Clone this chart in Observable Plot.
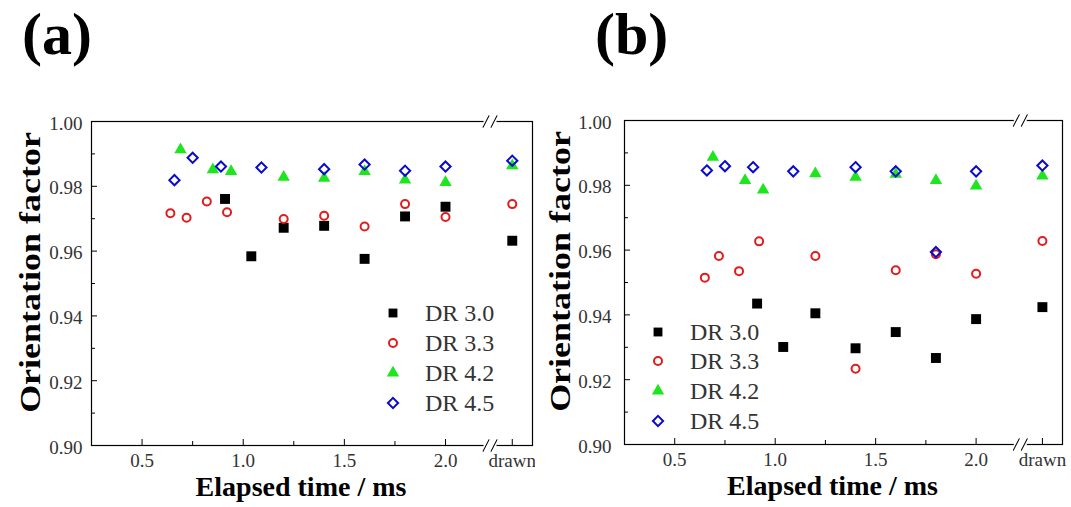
<!DOCTYPE html>
<html><head><meta charset="utf-8">
<script src="https://cdn.jsdelivr.net/npm/d3@7"></script>
<script src="https://cdn.jsdelivr.net/npm/@observablehq/plot@0.6"></script>
<style>
body{margin:0;background:#fff;}
#root{position:relative;width:1071px;height:507px;overflow:hidden;font-family:"Liberation Serif","Times New Roman",serif;background:#fff;}
.ptitle{position:absolute;top:0px;font-size:60px;font-weight:bold;line-height:normal;color:#000;}
.legrow{position:absolute;display:flex;align-items:center;height:30px;font-size:24px;color:#333;white-space:nowrap;}
.legrow svg{width:20px;height:20px;margin-right:22px;overflow:visible;flex:none;}
.panel{position:absolute;top:100px;}
</style></head><body><div id="root"></div>
<script>
// ---------- data ----------
const seriesNames = ["DR 3.0", "DR 3.3", "DR 4.2", "DR 4.5"];
const yMajor = [0.90, 0.92, 0.94, 0.96, 0.98, 1.00];
const yMinor = [0.91, 0.93, 0.95, 0.97, 0.99];
const xMajor = [0.5, 1.0, 1.5, 2.0];
const xMinor = [0.75, 1.25, 1.75];
const drawnLabel = "drawn";
const yTitle = "Orientation factor";
const xTitle = "Elapsed time / ms";

// panel (a)
const a_t30 = [0.91, 1.04, 1.20, 1.40, 1.60, 1.80, 2.00];
const a_f30 = [0.9761, 0.9584, 0.9672, 0.9678, 0.9576, 0.9707, 0.9737];
const a_t33 = [0.64, 0.72, 0.82, 0.92, 1.20, 1.40, 1.60, 1.80, 2.00];
const a_f33 = [0.9717, 0.9703, 0.9753, 0.9720, 0.9699, 0.9709, 0.9676, 0.9745, 0.9705];
const a_t42 = [0.69, 0.85, 0.94, 1.20, 1.40, 1.60, 1.80, 2.00];
const a_f42 = [0.9913, 0.9851, 0.9846, 0.9828, 0.9825, 0.9846, 0.9820, 0.9812];
const a_t45 = [0.66, 0.75, 0.89, 1.09, 1.40, 1.60, 1.80, 2.00];
const a_f45 = [0.9819, 0.9888, 0.9861, 0.9858, 0.9853, 0.9867, 0.9848, 0.9861];
const a_drawn = [0.9632, 0.9745, 0.9864, 0.9879]; // DR 3.0, 3.3, 4.2, 4.5

// panel (b)
const b_t30 = [0.91, 1.04, 1.20, 1.40, 1.60, 1.80, 2.00];
const b_f30 = [0.9435, 0.9301, 0.9405, 0.9297, 0.9347, 0.9267, 0.9387];
const b_t33 = [0.65, 0.72, 0.82, 0.92, 1.20, 1.40, 1.60, 1.80, 2.00];
const b_f33 = [0.9515, 0.9582, 0.9535, 0.9627, 0.9582, 0.9234, 0.9538, 0.9587, 0.9527];
const b_t42 = [0.69, 0.85, 0.94, 1.20, 1.40, 1.60, 1.80, 2.00];
const b_f42 = [0.9887, 0.9815, 0.9786, 0.9836, 0.9825, 0.9834, 0.9815, 0.9798];
const b_t45 = [0.66, 0.75, 0.89, 1.09, 1.40, 1.60, 1.80, 2.00];
const b_f45 = [0.9846, 0.9859, 0.9856, 0.9843, 0.9856, 0.9843, 0.9594, 0.9843];
const b_drawn = [0.9424, 0.9628, 0.9829, 0.9861];

// ---------- layout / style ----------
const X_DOMAIN = [0.25, 2.43];
const DRAWN_X = 2.33;   // axis slot of the "drawn" category (after the axis break)
const BREAK_X = 2.22;
const COLORS = ["#000000", "#e01c1c", "#1ee61e", "#0a0acc"];
const FONT = '"Liberation Serif", "Times New Roman", serif';

const rows = (t, f, d) => [...t.map((x, i) => ({x, y: f[i]})), {x: DRAWN_X, y: d}];
const lineShape = {draw(ctx, l) { ctx.moveTo(0, 0); ctx.lineTo(0, -l); }};

function breakMarks(anchor) {
  return [
    Plot.vector([BREAK_X], {x: d => d, frameAnchor: anchor, length: 9, rotate: 90, stroke: "white", strokeWidth: 4, shape: lineShape}),
    Plot.vector([BREAK_X], {x: d => d, frameAnchor: anchor, length: 13, rotate: 27, stroke: "#000", strokeWidth: 1, shape: lineShape, dx: -4}),
    Plot.vector([BREAK_X], {x: d => d, frameAnchor: anchor, length: 13, rotate: 27, stroke: "#000", strokeWidth: 1, shape: lineShape, dx: 4})
  ];
}

function panel(series, drawn, geom) {
  const [d30, d33, d42, d45] = series.map(([t, f], i) => rows(t, f, drawn[i]));
  const svg = Plot.plot({
    width: geom.width, height: 407,
    marginLeft: geom.ml, marginRight: geom.mr, marginTop: geom.mt, marginBottom: 407 - geom.mt - 324,
    x: {domain: X_DOMAIN, label: null},
    y: {domain: [0.90, 1.00], label: null},
    style: {fontFamily: FONT, background: "white", color: "#000", overflow: "visible"},
    marks: [
      Plot.frame({stroke: "#000", strokeWidth: 1.2}),
      ...breakMarks("top"),
      ...breakMarks("bottom"),
      Plot.axisY(yMinor, {tickSize: -4, tickFormat: () => "", stroke: "#000"}),
      Plot.axisY(yMajor, {tickSize: -6, tickFormat: () => "", stroke: "#000"}),
      Plot.axisY(yMajor, {tickSize: 0, tickPadding: geom.ypad, tickFormat: d => d.toFixed(2), fontSize: 19, fill: "#333", dy: 2, fontFamily: FONT}),
      Plot.axisX(xMinor, {tickSize: -4, tickFormat: () => "", stroke: "#000"}),
      Plot.axisX([...xMajor, DRAWN_X], {tickSize: -6, tickFormat: () => "", stroke: "#000"}),
      Plot.axisX([...xMajor, DRAWN_X], {tickSize: 0, tickPadding: 8, fontSize: 19, fill: "#333", fontFamily: FONT,
        tickFormat: d => d === DRAWN_X ? drawnLabel : d.toFixed(1)}),
      Plot.text([yTitle], {text: d => d, frameAnchor: "left", textAnchor: "middle", dx: geom.ylabDx, dy: -11, rotate: -90,
        fontSize: 36, fontWeight: "bold", fill: "#000", fontFamily: FONT}),
      Plot.text([xTitle], {text: d => d, frameAnchor: "bottom", dx: -11, dy: 50, lineAnchor: "bottom",
        fontSize: 28, fontWeight: "bold", fill: "#000", fontFamily: FONT}),
      Plot.dot(d30, {x: "x", y: "y", symbol: "square", r: 5.6, fill: COLORS[0], stroke: "none"}),
      Plot.dot(d33, {x: "x", y: "y", symbol: "circle", r: 4, fill: "none", stroke: COLORS[1], strokeWidth: 2}),
      Plot.dot(d42, {x: "x", y: "y", symbol: "triangle", r: 4.6, fill: COLORS[2], stroke: "none"}),
      Plot.dot(d45, {x: "x", y: "y", symbol: "diamond2", r: 4.6, fill: "none", stroke: COLORS[3], strokeWidth: 2})
    ]
  });
  // the reference's y title is a tall, narrow (condensed) face: squeeze it across the line
  d3.select(svg).selectAll("text").filter(function () { return this.textContent === yTitle; })
    .each(function () {
      const tr = this.getAttribute("transform") || "";
      this.setAttribute("transform", tr + " scale(1,0.8)");
    });
  return svg;
}

const root = document.getElementById("root");

function addPanel(svg, left) {
  const wrap = document.createElement("div");
  wrap.className = "panel";
  wrap.style.left = left + "px";
  wrap.appendChild(svg);
  root.appendChild(wrap);
}

addPanel(panel([[a_t30, a_f30], [a_t33, a_f33], [a_t42, a_f42], [a_t45, a_f45]], a_drawn,
  {width: 535, ml: 91, mr: 3, mt: 21, ypad: 9, ylabDx: -61}), 0);
addPanel(panel([[b_t30, b_f30], [b_t33, b_f33], [b_t42, b_f42], [b_t45, b_f45]], b_drawn,
  {width: 536, ml: 89, mr: 9, mt: 20, ypad: 13, ylabDx: -64}), 535);

// titles
[["(a)", 22], ["(b)", 595]].forEach(([t, x]) => {
  const d = document.createElement("div");
  d.className = "ptitle"; d.textContent = t; d.style.left = x + "px";
  root.appendChild(d);
});

// legends
const symStyles = [
  {type: d3.symbolSquare, r: 5.0, fill: COLORS[0], stroke: "none", sw: 0},
  {type: d3.symbolCircle, r: 4, fill: "none", stroke: COLORS[1], sw: 2},
  {type: d3.symbolTriangle, r: 4.6, fill: COLORS[2], stroke: "none", sw: 0},
  {type: d3.symbolDiamond2, r: 4.6, fill: "none", stroke: COLORS[3], sw: 2}
];
function addLegend(cx, rowYs) {
  seriesNames.forEach((name, i) => {
    const s = symStyles[i];
    const row = document.createElement("div");
    row.className = "legrow";
    row.style.left = (cx - 10) + "px";
    row.style.top = (rowYs[i] - 15) + "px";
    const svg = d3.create("svg").attr("viewBox", "-10 -10 20 20");
    svg.append("path").attr("d", d3.symbol(s.type, Math.PI * s.r * s.r)())
      .attr("fill", s.fill).attr("stroke", s.stroke).attr("stroke-width", s.sw);
    row.appendChild(svg.node());
    const span = document.createElement("span");
    span.textContent = name;
    row.appendChild(span);
    root.appendChild(row);
  });
}
addLegend(393, [313, 343, 373, 403]);
addLegend(658, [332, 361, 391, 421]);
</script></body></html>
